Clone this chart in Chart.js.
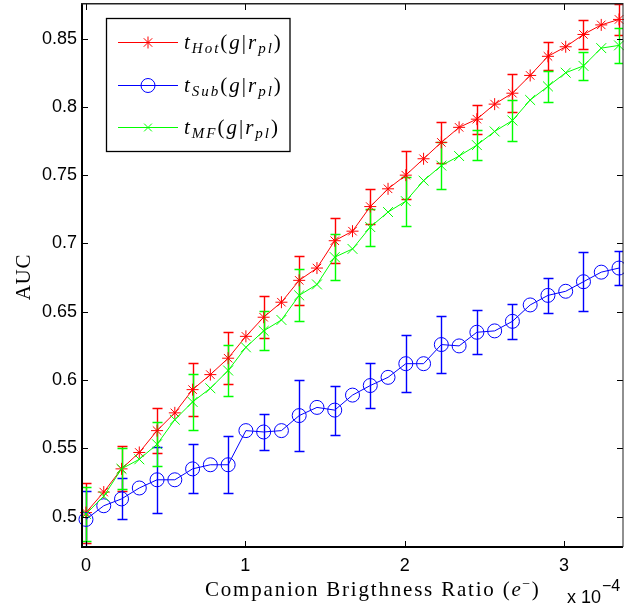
<!DOCTYPE html>
<html><head><meta charset="utf-8">
<script src="https://cdn.jsdelivr.net/npm/chart.js@4.4.1/dist/chart.umd.min.js"></script>
<style>html,body{margin:0;padding:0;background:#fff;overflow:hidden}canvas{display:block}</style>
</head><body>
<canvas id="c" width="624" height="611"></canvas>
<script>
// Companion brightness ratio, in units of 1e-4
const xValues = [0, 0.1115, 0.223, 0.3345, 0.446, 0.5575, 0.669, 0.7805, 0.892, 1.0035,
  1.115, 1.2265, 1.338, 1.4495, 1.561, 1.6725, 1.784, 1.8955, 2.007, 2.1185,
  2.23, 2.3415, 2.453, 2.5645, 2.676, 2.7875, 2.899, 3.0105, 3.122, 3.2335, 3.345];

const hotValues = [0.503, 0.518, 0.535, 0.547, 0.563, 0.576, 0.593, 0.604, 0.616, 0.632,
  0.646, 0.657, 0.673, 0.682, 0.702, 0.709, 0.727, 0.740, 0.750, 0.762,
  0.774, 0.785, 0.791, 0.802, 0.810, 0.823, 0.837, 0.844, 0.853, 0.860, 0.864];
const hotErrors = [0.022, null, 0.0165, null, 0.0167, null, 0.0195, null, 0.019, null,
  0.0155, null, 0.0177, null, 0.0165, null, 0.013, null, 0.0176, null,
  0.015, null, 0.0107, null, 0.0137, null, 0.0102, null, 0.0105, null, 0.0115];

const subValues = [0.498, 0.508, 0.513, 0.521, 0.527, 0.527, 0.535, 0.538, 0.538, 0.563,
  0.562, 0.563, 0.574, 0.580, 0.578, 0.589, 0.596, 0.602, 0.612, 0.612,
  0.626, 0.625, 0.635, 0.636, 0.643, 0.655, 0.662, 0.665, 0.672, 0.679, 0.682];
const subErrors = [0.021, null, 0.015, null, 0.024, null, 0.018, null, 0.021, null,
  0.013, null, 0.026, null, 0.018, null, 0.0165, null, 0.021, null,
  0.021, null, 0.016, null, 0.013, null, 0.013, null, 0.0215, null, 0.0122];

const mfValues = [0.502, 0.515, 0.535, 0.542, 0.553, 0.571, 0.584, 0.594, 0.607, 0.624,
  0.636, 0.644, 0.662, 0.670, 0.690, 0.696, 0.712, 0.723, 0.731, 0.746,
  0.757, 0.764, 0.772, 0.782, 0.790, 0.805, 0.815, 0.825, 0.830, 0.843, 0.845];
const mfErrors = [0.020, null, 0.015, null, 0.016, null, 0.0205, null, 0.019, null,
  0.0143, null, 0.019, null, 0.017, null, 0.0135, null, 0.018, null,
  0.017, null, 0.0112, null, 0.015, null, 0.0115, null, 0.010, null, 0.013];

const yTickValues = [0.5, 0.55, 0.6, 0.65, 0.7, 0.75, 0.8, 0.85];
const yTickLabels = ['0.5', '0.55', '0.6', '0.65', '0.7', '0.75', '0.8', '0.85'];
const xTickValues = [0, 1, 2, 3];
const xTickLabels = ['0', '1', '2', '3'];
const seriesSubs = ['Hot', 'Sub', 'MF'];
const seriesColors = ['#ff0000', '#0000ff', '#00ff00'];

const SERIF = '"Liberation Serif", "Times New Roman", serif';
const SANS = '"Liberation Sans", Arial, Helvetica, sans-serif';

function drawSpaced(ctx, parts, x, y, measureOnly) {
  let cx = x;
  parts.forEach(p => {
    ctx.font = (p.it ? 'italic ' : '') + p.size + 'px ' + SERIF;
    for (const ch of p.t) {
      if (!measureOnly) ctx.fillText(ch, cx, y + (p.dy || 0));
      cx += ctx.measureText(ch).width + (p.ls || 0);
    }
  });
  return cx - x;
}

const errorBarPlugin = {
  id: 'errbars',
  beforeDatasetsDraw(chart) {
    const {ctx, chartArea: a, scales: {x, y}} = chart;
    const errs = [hotErrors, subErrors, mfErrors];
    ctx.save();
    ctx.beginPath();
    ctx.rect(a.left, a.top, a.right - a.left, a.bottom - a.top);
    ctx.clip();
    ctx.lineWidth = 1.4;
    chart.data.datasets.forEach((ds, k) => {
      ctx.strokeStyle = seriesColors[k];
      errs[k].forEach((e, i) => {
        if (e == null) return;
        const px = Math.round(x.getPixelForValue(ds.data[i].x)) + 0.5;
        const v = ds.data[i].y;
        const t = Math.round(y.getPixelForValue(v + e)) + 0.5;
        const b = Math.round(y.getPixelForValue(v - e)) + 0.5;
        ctx.beginPath();
        ctx.moveTo(px, t); ctx.lineTo(px, b);
        ctx.moveTo(px - 5, t); ctx.lineTo(px + 5, t);
        ctx.moveTo(px - 5, b); ctx.lineTo(px + 5, b);
        ctx.stroke();
      });
    });
    ctx.restore();
  }
};

const framePlugin = {
  id: 'frame',
  afterDraw(chart) {
    const {ctx, chartArea: a, scales: {x, y}} = chart;
    ctx.save();
    // inward ticks
    ctx.strokeStyle = '#000';
    ctx.lineWidth = 1;
    ctx.beginPath();
    yTickValues.forEach(v => {
      const py = Math.round(y.getPixelForValue(v)) + 0.5;
      ctx.moveTo(a.left, py); ctx.lineTo(a.left + 6, py);
      ctx.moveTo(a.right, py); ctx.lineTo(a.right - 6, py);
    });
    xTickValues.forEach(v => {
      const px = Math.round(x.getPixelForValue(v)) + 0.5;
      ctx.moveTo(px, a.bottom); ctx.lineTo(px, a.bottom - 6);
      ctx.moveTo(px, a.top); ctx.lineTo(px, a.top + 6);
    });
    ctx.stroke();
    // box
    ctx.fillStyle = '#000';
    ctx.fillRect(a.left - 1, a.top, 2, a.bottom - a.top + 1);
    ctx.fillRect(a.left - 1, a.bottom - 1, a.right - a.left + 1, 2);
    ctx.fillStyle = '#222';
    ctx.fillRect(a.left - 1, a.top - 1, a.right - a.left + 1, 1.5);
    ctx.fillRect(a.right - 0.5, a.top - 1, 1, a.bottom - a.top + 1);

    // legend
    const lx = 106.5, ly = 18.5, lw = 183.5, lh = 133;
    ctx.fillStyle = '#fff';
    ctx.fillRect(lx, ly, lw, lh);
    ctx.strokeStyle = '#000';
    ctx.lineWidth = 1.3;
    ctx.strokeRect(lx, ly, lw, lh);
    const rows = [42.5, 85.5, 127.5];
    const mRadius = [6, 7, 5.5];
    chart.data.datasets.forEach((ds, k) => {
      const ry = rows[k];
      ctx.strokeStyle = seriesColors[k];
      ctx.fillStyle = 'rgba(0,0,0,0)';
      ctx.lineWidth = 1.2;
      ctx.beginPath();
      ctx.moveTo(118, ry); ctx.lineTo(178, ry);
      ctx.stroke();
      ctx.lineWidth = 1;
      Chart.helpers.drawPoint(ctx, {pointStyle: ds.pointStyle, radius: mRadius[k], borderWidth: 1, rotation: 0}, 148, ry);
      ctx.fillStyle = '#000';
      ctx.textBaseline = 'alphabetic';
      ctx.textAlign = 'left';
      drawSpaced(ctx, [
        {t: 't', it: true, size: 21, ls: 2},
        {t: seriesSubs[k], it: true, size: 15, ls: 2, dy: 4},
        {t: '(', size: 21, ls: 2},
        {t: 'g', it: true, size: 21, ls: 2},
        {t: '|', size: 21, ls: 2},
        {t: 'r', it: true, size: 21, ls: 2},
        {t: 'pl', it: true, size: 15, ls: 2, dy: 4},
        {t: ')', size: 21, ls: 0}
      ], 184, ry + 6.5);
    });

    // x axis title
    ctx.fillStyle = '#000';
    ctx.textAlign = 'left';
    ctx.textBaseline = 'alphabetic';
    drawSpaced(ctx, [
      {t: 'Companion Brigthness Ratio (', size: 21, ls: 1.8},
      {t: 'e', it: true, size: 21, ls: 1.5},
      {t: '\u2212', size: 14, ls: 1.5, dy: -8},
      {t: ')', size: 21, ls: 0}
    ], 205, 596);

    // y axis title
    ctx.save();
    ctx.translate(30, 277);
    ctx.rotate(-Math.PI / 2);
    const yParts = [{t: 'AUC', size: 21, ls: 0.8}];
    const w = drawSpaced(ctx, yParts, 0, 0, true);
    drawSpaced(ctx, yParts, -w / 2, 0);
    ctx.restore();

    // exponent multiplier
    ctx.font = '18px ' + SANS;
    ctx.fillText('x 10', 567, 603);
    const w10 = ctx.measureText('x 10').width;
    ctx.font = '16px ' + SANS;
    ctx.fillText('\u22124', 567 + w10 + 1, 591);
    ctx.restore();
  }
};

const mk = (vals) => xValues.map((xv, i) => ({x: xv, y: vals[i]}));
const noPad = s => { s.paddingTop = 0; s.paddingBottom = 0; s.paddingLeft = 0; s.paddingRight = 0; };

new Chart(document.getElementById('c'), {
  type: 'line',
  data: {
    datasets: [
      {label: 'Hot', data: mk(hotValues), borderColor: seriesColors[0], backgroundColor: 'rgba(0,0,0,0)',
       borderWidth: 1, pointStyle: 'star', pointRadius: 6, pointBorderWidth: 1, pointBorderColor: seriesColors[0],
       pointBackgroundColor: 'rgba(0,0,0,0)', clip: false, order: 2, tension: 0},
      {label: 'Sub', data: mk(subValues), borderColor: seriesColors[1], backgroundColor: 'rgba(0,0,0,0)',
       borderWidth: 1, pointStyle: 'circle', pointRadius: 7, pointBorderWidth: 1, pointBorderColor: seriesColors[1],
       pointBackgroundColor: 'rgba(0,0,0,0)', clip: false, order: 1, tension: 0},
      {label: 'MF', data: mk(mfValues), borderColor: seriesColors[2], backgroundColor: 'rgba(0,0,0,0)',
       borderWidth: 1, pointStyle: 'crossRot', pointRadius: 7, pointBorderWidth: 1, pointBorderColor: seriesColors[2],
       pointBackgroundColor: 'rgba(0,0,0,0)', clip: false, order: 0, tension: 0}
    ]
  },
  options: {
    responsive: false,
    animation: false,
    devicePixelRatio: 1,
    layout: {autoPadding: false, padding: {top: 4, right: 1, left: 0, bottom: 0}},
    plugins: {legend: {display: false}, tooltip: {enabled: false}, title: {display: false}},
    scales: {
      x: {
        type: 'linear', min: -0.025, max: 3.37,
        grid: {display: false, drawTicks: false}, border: {display: false},
        ticks: {font: {family: SANS, size: 18}, color: '#000', padding: 8, autoSkip: false, maxRotation: 0,
                callback: (v, i) => xTickLabels[i]},
        afterBuildTicks: s => { s.ticks = xTickValues.map(v => ({value: v})); },
        afterFit: s => { s.height = 64; noPad(s); }
      },
      y: {
        type: 'linear', min: 0.4778, max: 0.8753,
        grid: {display: false, drawTicks: false}, border: {display: false},
        ticks: {font: {family: SANS, size: 18}, color: '#000', padding: 5, autoSkip: false,
                callback: (v, i) => yTickLabels[i]},
        afterBuildTicks: s => { s.ticks = yTickValues.map(v => ({value: v})); },
        afterFit: s => { s.width = 82; noPad(s); }
      }
    }
  },
  plugins: [errorBarPlugin, framePlugin]
});
</script>
</body></html>
